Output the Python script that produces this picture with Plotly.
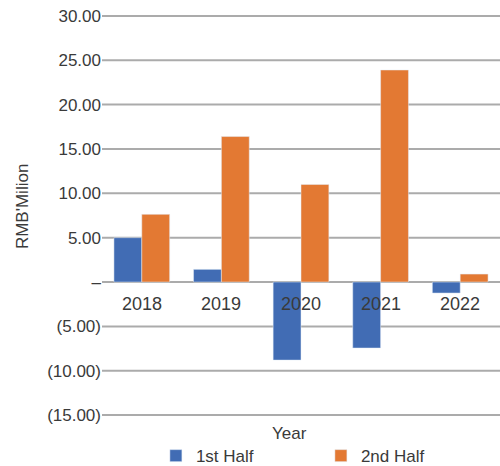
import plotly.graph_objects as go

years = ["2018", "2019", "2020", "2021", "2022"]
first_half = [5.0, 1.43, -8.8, -7.44, -1.24]
second_half = [7.63, 16.4, 11.0, 23.9, 0.9]
y_tickvals = [30, 25, 20, 15, 10, 5, 0, -5, -10, -15]
y_ticktext = ["30.00", "25.00", "20.00", "15.00", "10.00", "5.00", "–",
              "(5.00)", "(10.00)", "(15.00)"]

FONT = "Liberation Sans, Arial, Helvetica, sans-serif"
TXT = "#3a3a3a"
GRID = "#ababab"

fig = go.Figure()
fig.add_trace(go.Bar(x=years, y=first_half, name="1st Half", marker_color="#416CB4"))
fig.add_trace(go.Bar(x=years, y=second_half, name="2nd Half", marker_color="#E37933"))

# horizontal gridlines at the y tick values, placed through the y scale
shapes = [dict(type="line", xref="paper", yref="y", x0=0, x1=1, y0=v, y1=v,
               line=dict(color=GRID, width=2), layer="below") for v in y_tickvals]

annotations = [dict(text=yr, xref="x", yref="y", x=i, y=0, yshift=-10,
                    showarrow=False, font=dict(size=18, color=TXT),
                    xanchor="center", yanchor="top") for i, yr in enumerate(years)]
annotations.append(dict(text="Year", xref="paper", yref="paper", x=0.472, y=-0.043,
                        showarrow=False, font=dict(size=17, color=TXT),
                        xanchor="center", yanchor="middle"))
annotations.append(dict(text="RMB'Milion", xref="paper", yref="paper", x=-0.201, y=0.521,
                        showarrow=False, textangle=-90, font=dict(size=17, color=TXT),
                        xanchor="center", yanchor="middle"))

fig.update_layout(
    width=500, height=466,
    margin=dict(l=102, r=0, t=15, b=50, autoexpand=False),
    paper_bgcolor="white", plot_bgcolor="white",
    barmode="group", bargap=0.3, bargroupgap=0,
    font=dict(family=FONT, size=17, color=TXT),
    showlegend=True,
    legend=dict(orientation="h", x=0.55, xanchor="center",
                y=-0.1, yanchor="middle",
                font=dict(size=17, color=TXT), traceorder="normal",
                entrywidth=120, entrywidthmode="pixels"),
    xaxis=dict(type="category", categoryorder="array", categoryarray=years,
               range=[-0.5, 4.5], showgrid=False, showline=False, zeroline=False,
               ticks="", showticklabels=False, automargin=False),
    yaxis=dict(range=[-15.1, 30.1], tickvals=y_tickvals, ticktext=y_ticktext,
               showgrid=False, zeroline=False,
               showline=False, ticks="", automargin=False,
               tickfont=dict(size=17, color=TXT)),
    shapes=shapes,
    annotations=annotations,
)

fig.write_html("out.html", config={"displayModeBar": False},
               post_script="document.body.style.margin='0';document.body.style.padding='0';"
                           "document.body.style.overflow='hidden';")
